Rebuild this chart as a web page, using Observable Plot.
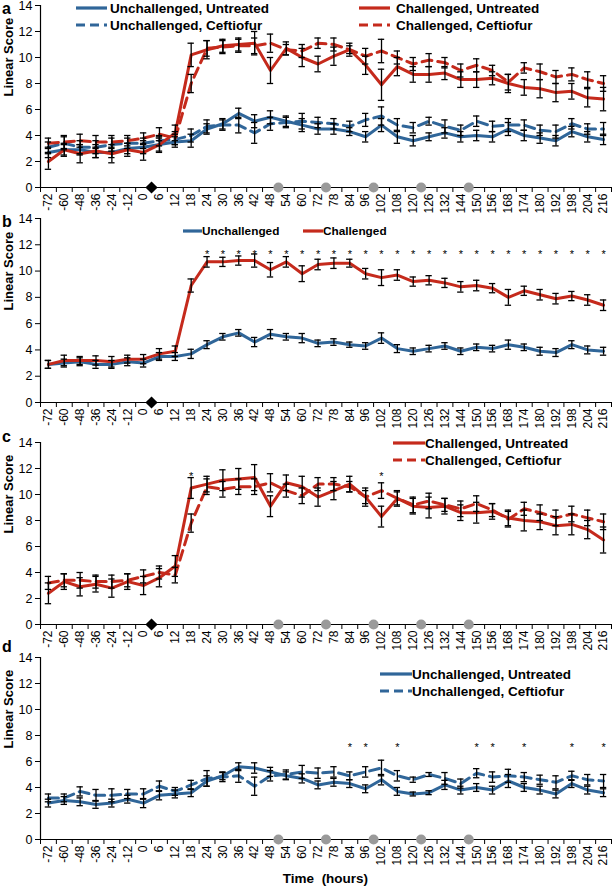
<!DOCTYPE html>
<html><head><meta charset="utf-8">
<script src="https://cdn.jsdelivr.net/npm/d3@7"></script>
<script src="https://cdn.jsdelivr.net/npm/@observablehq/plot@0.6"></script>
<style>
body{margin:0;background:#fff;font-family:"Liberation Sans",Arial,sans-serif;}
#chart{position:relative;width:612px;height:887px;overflow:hidden;}
.panel{position:absolute;left:0;}
.lg{position:absolute;display:flex;align-items:center;height:20px;font-weight:bold;white-space:nowrap;color:#000;}
.plabel{position:absolute;left:2px;font-weight:bold;font-size:16px;line-height:16px;}
</style></head>
<body><div id="chart"></div>
<script>
// ---------- data ----------
const hours = [-72,-60,-48,-36,-24,-12,0,6,12,18,24,30,36,42,48,54,60,72,78,84,96,102,108,120,126,132,144,150,156,168,174,180,192,198,204,216];
const yTicks = [0,2,4,6,8,10,12,14];
const challengeAfter = [0];                 // black diamond
const treatmentAfter = [48,72,96,120,144];  // grey circles

// panel a
const aUnchUntreated = [2.7,2.9,2.9,2.7,2.7,3.0,3.1,3.3,3.5,3.6,4.5,4.9,5.7,5.1,5.4,5.1,4.8,4.5,4.5,4.3,3.9,4.8,3.9,3.6,3.9,4.2,3.9,4.0,3.9,4.5,4.0,3.8,3.6,4.3,3.9,3.7];
const aUnchUntreatedSE = [0.4,0.4,0.4,0.4,0.4,0.4,0.5,0.5,0.4,0.5,0.4,0.4,0.4,0.5,0.5,0.4,0.5,0.4,0.4,0.3,0.4,0.5,0.5,0.4,0.3,0.4,0.4,0.4,0.4,0.5,0.4,0.4,0.4,0.4,0.4,0.4];
const aUnchCeft = [3.1,3.4,3.1,3.1,3.3,3.4,3.4,3.6,3.7,4.0,4.7,4.8,4.8,4.2,4.9,5.0,5.1,5.0,4.9,4.7,5.2,5.5,4.8,4.6,5.1,4.7,4.4,5.1,4.7,4.8,4.8,4.4,4.3,4.9,4.5,4.5];
const aUnchCeftSE = [0.4,0.5,0.5,0.5,0.5,0.4,0.4,0.4,0.4,0.5,0.5,0.4,0.6,0.8,0.5,0.4,0.6,0.4,0.4,0.4,0.5,0.7,0.5,0.4,0.3,0.5,0.4,0.4,0.4,0.5,0.4,0.4,0.5,0.4,0.4,0.5];
const aChUntreated = [2.0,2.9,2.6,2.8,2.6,2.9,2.7,3.3,4.2,10.2,10.6,10.9,11.0,11.1,9.0,10.7,10.0,9.5,10.1,10.6,9.4,7.9,9.3,8.7,8.7,8.8,8.3,8.3,8.4,8.0,7.7,7.6,7.3,7.4,6.9,6.8];
const aChUntreatedSE = [0.6,0.5,0.7,0.5,0.7,0.5,0.6,0.6,0.6,0.9,0.7,0.5,0.5,0.9,1.0,0.5,0.7,0.6,0.7,0.5,0.7,1.2,0.7,0.6,0.6,0.5,0.6,0.6,0.5,0.7,0.6,0.7,0.7,0.6,0.7,0.9];
const aChCeft = [3.4,3.5,3.6,3.5,3.5,3.6,3.8,4.1,3.8,8.0,10.7,10.8,10.9,10.9,11.1,10.6,10.5,11.1,11.0,10.6,10.1,10.5,10.0,9.5,9.8,9.6,9.0,9.4,9.0,8.1,9.2,8.9,8.5,8.7,8.3,8.0];
const aChCeftSE = [0.4,0.5,0.5,0.5,0.5,0.4,0.4,0.5,0.5,0.7,0.6,0.5,0.5,0.6,0.7,0.4,0.5,0.4,0.5,0.3,0.6,0.9,0.5,0.5,0.5,0.4,0.5,0.5,0.4,0.6,0.4,0.6,0.5,0.5,0.6,0.6];

// panel b
const bUnch = [2.9,3.0,3.1,2.9,2.9,3.1,3.0,3.5,3.5,3.7,4.4,5.0,5.3,4.6,5.2,5.0,4.9,4.5,4.6,4.4,4.3,4.9,4.1,3.9,4.1,4.3,3.9,4.2,4.1,4.4,4.2,3.9,3.8,4.4,4.0,3.9];
const bUnchSE = [0.3,0.3,0.3,0.3,0.3,0.3,0.3,0.3,0.3,0.35,0.3,0.25,0.25,0.35,0.35,0.25,0.35,0.25,0.25,0.2,0.25,0.4,0.3,0.25,0.25,0.25,0.25,0.25,0.25,0.35,0.25,0.3,0.3,0.3,0.3,0.3];
const bCh = [2.9,3.2,3.2,3.2,3.1,3.3,3.3,3.7,3.9,8.9,10.7,10.7,10.8,10.8,10.1,10.7,9.8,10.5,10.6,10.6,9.8,9.5,9.7,9.2,9.3,9.1,8.8,8.9,8.7,8.0,8.5,8.2,7.9,8.1,7.8,7.4];
const bChSE = [0.3,0.4,0.3,0.35,0.4,0.3,0.35,0.4,0.4,0.5,0.4,0.35,0.35,0.5,0.55,0.4,0.6,0.4,0.4,0.3,0.4,0.6,0.4,0.35,0.35,0.35,0.4,0.4,0.35,0.6,0.35,0.4,0.4,0.35,0.4,0.4];
const bStars = [24,30,36,42,48,54,60,72,78,84,96,102,108,120,126,132,144,150,156,168,174,180,192,198,204,216];

// panel c
const cChUntreated = [2.4,3.3,2.9,3.1,2.8,3.3,3.0,3.6,4.5,10.5,10.8,11.1,11.2,11.3,9.1,10.9,10.6,9.8,10.3,10.8,9.8,8.3,9.7,9.1,9.0,9.1,8.6,8.6,8.7,8.2,8.0,7.9,7.6,7.7,7.3,6.5];
const cChUntreatedSE = [0.8,0.6,0.7,0.6,0.7,0.6,0.7,0.7,0.8,0.8,0.6,0.8,0.8,1.0,0.8,0.6,0.8,0.7,0.7,0.6,0.7,0.8,0.6,0.6,0.8,0.6,0.6,0.8,0.6,0.6,0.8,0.6,0.7,0.8,0.7,1.0];
const cChCeft = [3.2,3.4,3.4,3.3,3.3,3.4,3.7,4.0,3.8,7.8,10.6,10.4,10.6,10.6,10.9,10.3,9.9,10.8,10.8,10.6,9.8,10.3,9.7,9.2,9.5,9.2,8.9,9.3,8.8,8.1,8.9,8.6,8.2,8.5,8.2,7.9];
const cChCeftSE = [0.5,0.5,0.6,0.5,0.5,0.5,0.5,0.5,0.6,0.7,0.6,0.6,0.6,0.6,0.7,0.5,0.6,0.5,0.5,0.4,0.5,0.6,0.5,0.6,0.6,0.5,0.6,0.6,0.5,0.6,0.5,0.6,0.6,0.6,0.6,0.6];
const cStars = [18,102];

// panel d
const dUnchUntreated = [2.8,3.0,2.9,2.7,2.8,3.1,2.8,3.4,3.5,3.6,4.5,4.9,5.6,5.5,5.2,4.9,4.7,4.2,4.4,4.3,3.9,4.6,3.7,3.5,3.6,4.2,3.8,4.0,3.8,4.5,4.0,3.8,3.5,4.3,3.8,3.6];
const dUnchUntreatedSE = [0.3,0.3,0.3,0.3,0.3,0.3,0.35,0.35,0.3,0.3,0.4,0.3,0.3,0.4,0.35,0.3,0.35,0.3,0.3,0.3,0.3,0.4,0.3,0.15,0.15,0.35,0.3,0.3,0.3,0.5,0.3,0.3,0.3,0.3,0.3,0.3];
const dUnchCeft = [3.2,3.2,3.7,3.4,3.4,3.5,3.5,4.1,3.7,4.2,4.7,4.8,4.9,4.1,4.9,5.0,5.2,5.1,5.2,4.9,5.2,5.5,4.9,4.6,5.0,4.7,4.3,5.1,4.8,4.9,4.8,4.6,4.4,4.9,4.6,4.5];
const dUnchCeftSE = [0.3,0.3,0.35,0.45,0.5,0.35,0.4,0.4,0.3,0.35,0.6,0.35,0.5,0.7,0.4,0.35,0.5,0.4,0.4,0.3,0.4,0.6,0.4,0.2,0.15,0.45,0.35,0.35,0.4,0.5,0.35,0.35,0.5,0.35,0.4,0.5];
const dStars = [84,96,108,150,156,174,198,216];

// ---------- styling ----------
const BLUE = "#306699", RED = "#c52a1c";
const FONT = "Liberation Sans, Arial, sans-serif";
const chart = document.getElementById("chart");

function panel({top, marginTop, plotHeight, marginBottom, series, stars = [], starLevel = 0, diamond = false, circles = false}) {
  const xi = (d, i) => i + 0.5;
  const marks = [];
  for (const s of series) {
    marks.push(Plot.line(s.values, {x: xi, y: d => d, stroke: s.color, strokeWidth: 3,
      strokeDasharray: s.dash ? "10,6" : null, strokeLinejoin: "round"}));
  }
  for (const s of series) {
    marks.push(Plot.ruleX(s.values, {x: xi, y1: (d, i) => d - s.se[i], y2: (d, i) => d + s.se[i], stroke: "#000", strokeWidth: 1.3}));
    marks.push(Plot.ruleY(s.values, {y: (d, i) => d + s.se[i], x1: (d, i) => i + 0.3, x2: (d, i) => i + 0.7, stroke: "#000", strokeWidth: 1.3}));
    marks.push(Plot.ruleY(s.values, {y: (d, i) => d - s.se[i], x1: (d, i) => i + 0.3, x2: (d, i) => i + 0.7, stroke: "#000", strokeWidth: 1.3}));
  }
  const p = Plot.plot({
    width: 612,
    height: marginTop + plotHeight + marginBottom,
    marginTop, marginBottom, marginLeft: 40, marginRight: 1,
    style: {fontFamily: FONT, fontSize: "12px", background: "transparent", overflow: "visible", color: "#000"},
    x: {type: "linear", domain: [0, hours.length], axis: null},
    y: {domain: [0, 14], axis: null},
    marks: [
      Plot.axisY({ticks: yTicks, tickSize: 5, tickPadding: 3, fontSize: 12.5, label: null, tickFormat: d => String(d)}),
      Plot.axisX({ticks: d3.range(0, hours.length + 1), tickSize: 5, tickFormat: () => "", label: null}),
      Plot.axisX({ticks: hours.map((h, i) => i + 0.5), tickSize: 0, tickPadding: 6, tickRotate: -90,
        fontSize: 12, label: null, tickFormat: d => String(hours[Math.floor(d)])}),
      Plot.ruleX([0], {strokeWidth: 1.2}),
      Plot.ruleY([0], {strokeWidth: 1.2}),
      Plot.text(["Linear Score"], {frameAnchor: "left", dx: -32, rotate: -90, fontWeight: "bold", fontSize: 13, fill: "#000"}),
      ...marks,
      Plot.text(stars, {x: h => hours.indexOf(h) + 0.5, y: () => starLevel, text: () => "*", fontSize: 11, dy: 4, fill: "#000"}),
      Plot.dot(circles ? treatmentAfter : [], {x: h => hours.indexOf(h) + 1, y: () => 0, r: 5, fill: "#9a9a9a", stroke: "none"}),
      Plot.dot(diamond ? challengeAfter : [], {x: h => hours.indexOf(h) + 1, y: () => 0, r: 5.5, symbol: "diamond2", fill: "#000", stroke: "none"})
    ]
  });
  const div = document.createElement("div");
  div.className = "panel";
  div.style.top = top + "px";
  div.appendChild(p);
  chart.appendChild(div);
}

function legend(items) {
  for (const it of items) {
    const d = document.createElement("div");
    d.className = "lg";
    d.style.left = it.x + "px";
    d.style.top = (it.y - 10) + "px";
    d.style.fontSize = it.size + "px";
    d.innerHTML = `<svg width="${it.w}" height="20" style="margin-right:${it.gap}px"><line x1="0" x2="${it.w}" y1="10" y2="10" stroke="${it.color}" stroke-width="3.2" ${it.dash ? 'stroke-dasharray="9,5"' : ""}/></svg><span>${it.label}</span>`;
    chart.appendChild(d);
  }
}
function label(text, y) {
  const d = document.createElement("div");
  d.className = "plabel";
  d.style.top = y + "px";
  d.textContent = text;
  chart.appendChild(d);
}

panel({top: 0, marginTop: 5, plotHeight: 182, marginBottom: 30, diamond: true, circles: true,
  series: [
    {values: aUnchUntreated, se: aUnchUntreatedSE, color: BLUE, dash: false},
    {values: aUnchCeft, se: aUnchCeftSE, color: BLUE, dash: true},
    {values: aChUntreated, se: aChUntreatedSE, color: RED, dash: false},
    {values: aChCeft, se: aChCeftSE, color: RED, dash: true}
  ]});
panel({top: 215, marginTop: 3, plotHeight: 184, marginBottom: 30, diamond: true, circles: false,
  stars: bStars, starLevel: 11.6,
  series: [
    {values: bUnch, se: bUnchSE, color: BLUE, dash: false},
    {values: bCh, se: bChSE, color: RED, dash: false}
  ]});
panel({top: 432, marginTop: 10, plotHeight: 182, marginBottom: 30, diamond: true, circles: true,
  stars: cStars, starLevel: 11.7,
  series: [
    {values: cChUntreated, se: cChUntreatedSE, color: RED, dash: false},
    {values: cChCeft, se: cChCeftSE, color: RED, dash: true}
  ]});
panel({top: 652, marginTop: 5, plotHeight: 182, marginBottom: 40, diamond: false, circles: true,
  stars: dStars, starLevel: 7.4,
  series: [
    {values: dUnchUntreated, se: dUnchUntreatedSE, color: BLUE, dash: false},
    {values: dUnchCeft, se: dUnchCeftSE, color: BLUE, dash: true}
  ]});

legend([
  {x: 76, y: 8, w: 31, gap: 3, size: 13.5, color: BLUE, dash: false, label: "Unchallenged, Untreated"},
  {x: 76, y: 25, w: 31, gap: 3, size: 13.5, color: BLUE, dash: true, label: "Unchallenged, Ceftiofur"},
  {x: 359, y: 8, w: 31, gap: 6, size: 13.5, color: RED, dash: false, label: "Challenged, Untreated"},
  {x: 359, y: 25, w: 31, gap: 6, size: 13.5, color: RED, dash: true, label: "Challenged, Ceftiofur"},
  {x: 183, y: 231, w: 19, gap: 0, size: 11.8, color: BLUE, dash: false, label: "Unchallenged"},
  {x: 303, y: 231, w: 20, gap: 0, size: 11.8, color: RED, dash: false, label: "Challenged"},
  {x: 393, y: 443, w: 32, gap: 0, size: 13.5, color: RED, dash: false, label: "Challenged, Untreated"},
  {x: 393, y: 460, w: 32, gap: 0, size: 13.5, color: RED, dash: true, label: "Challenged, Ceftiofur"},
  {x: 380, y: 674, w: 32, gap: 0, size: 13.5, color: BLUE, dash: false, label: "Unchallenged, Untreated"},
  {x: 380, y: 691, w: 32, gap: 0, size: 13.5, color: BLUE, dash: true, label: "Unchallenged, Ceftiofur"}
]);
label("a", 1);
label("b", 214);
label("c", 429);
label("d", 639);

const t = document.createElement("div");
t.style.cssText = "position:absolute;left:40px;width:571px;top:871px;text-align:center;font-weight:bold;font-size:13.5px;white-space:pre;";
t.textContent = "Time  (hours)";
chart.appendChild(t);
</script>
</body></html>
